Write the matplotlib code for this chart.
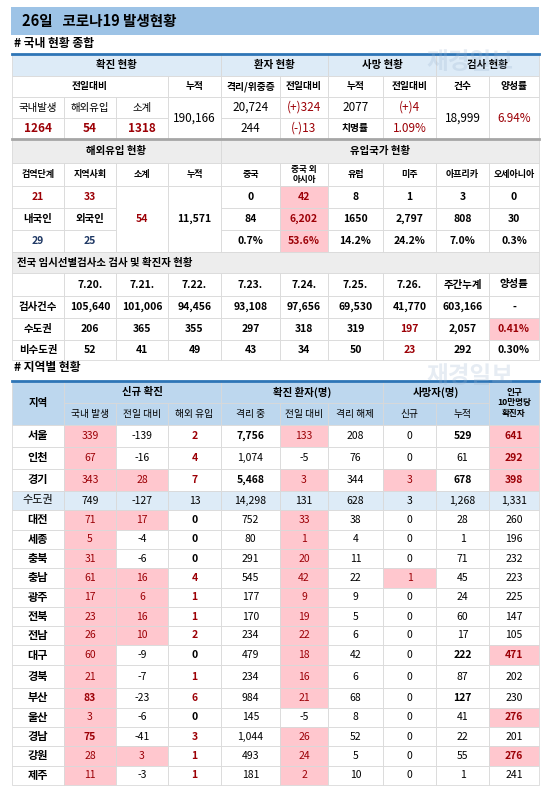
import matplotlib
matplotlib.use("Agg")
import matplotlib.pyplot as plt
from matplotlib.patches import Rectangle

plt.rcParams['font.family'] = ['Noto Sans CJK KR', 'DejaVu Sans']

# ---- data ----
total_vals = ["190,166", "20,724", "(+)324", "244", "(-)13", "2077", "(+)4", "1.09%", "18,999", "6.94%"]
new_cases = ["1264", "54", "1318"]

abroad_top = ["21", "33"]
abroad_bottom = ["29", "25"]
abroad_sub = "54"
abroad_cum = "11,571"
country_names = ["중국", "중국 외\n아시아", "유럽", "미주", "아프리카", "오세아니아"]
country_today = ["0", "42", "8", "1", "3", "0"]
country_cum = ["84", "6,202", "1650", "2,797", "808", "30"]
country_pct = ["0.7%", "53.6%", "14.2%", "24.2%", "7.0%", "0.3%"]

dates = ["7.20.", "7.21.", "7.22.", "7.23.", "7.24.", "7.25.", "7.26.", "주간누계", "양성률"]
tests = ["105,640", "101,006", "94,456", "93,108", "97,656", "69,530", "41,770", "603,166", "-"]
capital = ["206", "365", "355", "297", "318", "319", "197", "2,057", "0.41%"]
noncapital = ["52", "41", "49", "43", "34", "50", "23", "292", "0.30%"]

regions = ["서울", "인천", "경기", "수도권", "대전", "세종", "충북", "충남", "광주", "전북",
           "전남", "대구", "경북", "부산", "울산", "경남", "강원", "제주"]
domestic = [339, 67, 343, 749, 71, 5, 31, 61, 17, 23, 26, 60, 21, 83, 3, 75, 28, 11]
dom_diff = [-139, -16, 28, -127, 17, -4, -6, 16, 6, 16, 10, -9, -7, -23, -6, -41, 3, -3]
imported = [2, 4, 7, 13, 0, 0, 0, 4, 1, 1, 2, 0, 1, 6, 0, 3, 1, 1]
isolated = [7756, 1074, 5468, 14298, 752, 80, 291, 545, 177, 170, 234, 479, 234, 984, 145, 1044, 493, 181]
iso_diff = [133, -5, 3, 131, 33, 1, 20, 42, 9, 19, 22, 18, 16, 21, -5, 26, 24, 2]
released = [208, 76, 344, 628, 38, 4, 11, 22, 9, 5, 6, 42, 6, 68, 8, 52, 5, 10]
deaths_new = [0, 0, 3, 3, 0, 0, 0, 1, 0, 0, 0, 0, 0, 0, 0, 0, 0, 0]
deaths_cum = [529, 61, 678, 1268, 28, 1, 71, 45, 24, 60, 17, 222, 87, 127, 41, 22, 55, 1]
per100k = [641, 292, 398, 1331, 260, 196, 232, 223, 225, 147, 105, 471, 202, 230, 276, 201, 276, 241]

W, H = 550, 794
X = [12, 64, 116, 168, 221, 280, 328, 383, 436, 489, 539]
PINK = "#FFC7CE"
RED = "#9C0006"
LBLUE = "#DDEBF7"
BLUE = "#BDD7EE"
GRAY = "#EDEDED"
GRID = "#D9D9D9"

fig = plt.figure(figsize=(W / 100, H / 100), dpi=100)
ax = fig.add_axes([0, 0, 1, 1])
ax.set_xlim(0, W)
ax.set_ylim(H, 0)
ax.axis("off")


def cell(c0, c1, y0, y1, text="", bg="white", color="black", bold=False, size=7.5, ha="center", ls=1.0):
    x0, x1 = X[c0], X[c1]
    ax.add_patch(Rectangle((x0, y0), x1 - x0, y1 - y0, facecolor=bg, edgecolor=GRID, lw=0.6))
    if text != "":
        tx = (x0 + x1) / 2 if ha == "center" else x0 + 5
        ax.text(tx, (y0 + y1) / 2, text, ha=ha, va="center", color=color, fontsize=size,
                fontweight="bold" if bold else "normal", linespacing=ls)


def fmt(v):
    return f"{v:,}"


# title
ax.add_patch(Rectangle((11, 7), 528, 28, facecolor="#9DC3E6", edgecolor="none"))
ax.text(22, 21, "26일   코로나19 발생현황", fontsize=10.5, fontweight="bold", va="center")
ax.text(14, 44, "# 국내 현황 종합", fontsize=8.5, fontweight="bold", va="center")

# section 1
r = [54, 76, 97, 118, 139]
for c0, c1, t in [(0, 4, "확진 현황"), (4, 6, "환자 현황"), (6, 8, "사망 현황"), (8, 10, "검사 현황")]:
    cell(c0, c1, r[0], r[1], t, bg=LBLUE, bold=True)
cell(0, 3, r[1], r[2], "전일대비", bold=True, size=7)
for i, t in enumerate(["누적", "격리/위중증", "전일대비", "누적", "전일대비", "건수", "양성률"]):
    cell(3 + i, 4 + i, r[1], r[2], t, bold=True, size=7)
for i, t in enumerate(["국내발생", "해외유입", "소계"]):
    cell(i, i + 1, r[2], r[3], t, size=7.5)
    cell(i, i + 1, r[3], r[4], new_cases[i], color=RED, bold=True, size=8.5)
cell(3, 4, r[2], r[4], total_vals[0], size=8.5)
cell(4, 5, r[2], r[3], total_vals[1], size=8.5)
cell(5, 6, r[2], r[3], total_vals[2], color=RED, size=8.5)
cell(4, 5, r[3], r[4], total_vals[3], size=8.5)
cell(5, 6, r[3], r[4], total_vals[4], color=RED, size=8.5)
cell(6, 7, r[2], r[3], total_vals[5], size=8.5)
cell(7, 8, r[2], r[3], total_vals[6], color=RED, size=8.5)
cell(6, 7, r[3], r[4], "치명률", bold=True, size=7)
cell(7, 8, r[3], r[4], total_vals[7], color=RED, size=8.5)
cell(8, 9, r[2], r[4], total_vals[8], size=8.5)
cell(9, 10, r[2], r[4], total_vals[9], color=RED, size=8.5)
ax.plot([X[0], X[-1]], [r[0], r[0]], color="#2E75B6", lw=2)
ax.plot([X[0], X[-1]], [r[4], r[4]], color="#A6A6A6", lw=2)

# section 2
s = [139, 163, 186, 208, 230, 252]
cell(0, 4, s[0], s[1], "해외유입 현황", bg=GRAY, bold=True)
cell(4, 10, s[0], s[1], "유입국가 현황", bg=GRAY, bold=True)
for i, t in enumerate(["검역단계", "지역사회", "소계", "누적"] + country_names):
    cell(i, i + 1, s[1], s[2], t, bold=True, size=6.2 if "\n" in t else 6.5, ls=1.15)
cell(0, 1, s[2], s[3], abroad_top[0], color=RED, bold=True)
cell(1, 2, s[2], s[3], abroad_top[1], color=RED, bold=True)
cell(0, 1, s[3], s[4], "내국인", bold=True)
cell(1, 2, s[3], s[4], "외국인", bold=True)
cell(0, 1, s[4], s[5], abroad_bottom[0], color="#1F3864", bold=True)
cell(1, 2, s[4], s[5], abroad_bottom[1], color="#1F3864", bold=True)
cell(2, 3, s[2], s[5], abroad_sub, color=RED, bold=True)
cell(3, 4, s[2], s[5], abroad_cum, bold=True)
for i in range(6):
    pk = i == 1
    for j, vals in enumerate([country_today, country_cum, country_pct]):
        cell(4 + i, 5 + i, s[2 + j], s[3 + j], vals[i], bg=PINK if pk else "white",
             color=RED if pk else "black", bold=True)

# section 3
t = [252, 273, 296, 318, 340, 360]
cell(0, 10, t[0], t[1], "전국 임시선별검사소 검사 및 확진자 현황", bg=GRAY, bold=True, ha="left")
cell(0, 1, t[1], t[2])
for i, d in enumerate(dates):
    cell(i + 1, i + 2, t[1], t[2], d, bold=True)
for k, (lab, vals) in enumerate([("검사건수", tests), ("수도권", capital), ("비수도권", noncapital)]):
    cell(0, 1, t[2 + k], t[3 + k], lab, bold=True)
    for i, v in enumerate(vals):
        pk = (lab == "수도권" and i == 8)
        red = pk or i == 6 and lab != "검사건수"
        cell(i + 1, i + 2, t[2 + k], t[3 + k], v, bg=PINK if pk else "white",
             color=RED if red else "black", bold=True)

# section 4: regions
ax.text(14, 368, "# 지역별 현황", fontsize=8.5, fontweight="bold", va="center")
h = [381, 403, 425]
cell(0, 1, h[0], h[2], "지역", bg=BLUE, bold=True)
cell(1, 4, h[0], h[1], "신규 확진", bg=BLUE, bold=True)
cell(4, 7, h[0], h[1], "확진 환자(명)", bg=BLUE, bold=True)
cell(7, 9, h[0], h[1], "사망자(명)", bg=BLUE, bold=True)
cell(9, 10, h[0], h[2], "인구\n10만명당\n확진자", bg=BLUE, bold=True, size=6.2, ls=1.2)
for i, lab in enumerate(["국내 발생", "전일 대비", "해외 유입", "격리 중", "전일 대비", "격리 해제", "신규", "누적"]):
    cell(i + 1, i + 2, h[1], h[2], lab, bg=BLUE, size=7)
ax.plot([X[0], X[-1]], [h[0], h[0]], color="#2E75B6", lw=2)

row_h = [22, 22, 22, 19, 20, 19, 19, 20, 19, 19, 19, 20, 23, 20, 19, 19, 20, 19]
y = h[2]
for k, reg in enumerate(regions):
    y0, y1 = y, y + row_h[k]
    y = y1
    if reg == "수도권":
        vals = [domestic[k], dom_diff[k], imported[k], isolated[k], iso_diff[k], released[k],
                deaths_new[k], deaths_cum[k], per100k[k]]
        cell(0, 1, y0, y1, reg, bg=LBLUE, size=8)
        for i, v in enumerate(vals):
            cell(i + 1, i + 2, y0, y1, fmt(v), bg=LBLUE, size=7.5)
        continue
    cell(0, 1, y0, y1, reg, bold=True, size=8)
    cell(1, 2, y0, y1, fmt(domestic[k]), bg=PINK, color=RED, bold=domestic[k] in (83, 75))
    pk = dom_diff[k] > 0
    cell(2, 3, y0, y1, fmt(dom_diff[k]), bg=PINK if pk else "white", color=RED if pk else "black")
    cell(3, 4, y0, y1, fmt(imported[k]), color=RED if imported[k] else "black", bold=True)
    cell(4, 5, y0, y1, fmt(isolated[k]), bold=isolated[k] > 5000)
    pk = iso_diff[k] > 0
    cell(5, 6, y0, y1, fmt(iso_diff[k]), bg=PINK if pk else "white", color=RED if pk else "black")
    cell(6, 7, y0, y1, fmt(released[k]))
    pk = deaths_new[k] > 0
    cell(7, 8, y0, y1, fmt(deaths_new[k]), bg=PINK if pk else "white", color=RED if pk else "black")
    cell(8, 9, y0, y1, fmt(deaths_cum[k]), bold=deaths_cum[k] > 100)
    pk = per100k[k] >= 276
    cell(9, 10, y0, y1, fmt(per100k[k]), bg=PINK if pk else "white", color=RED if pk else "black", bold=pk)

# faint watermark over the tables
for wy in (62, 376):
    ax.text(470, wy, "재경일보", fontsize=17, fontweight="bold", color="#9DB4D0", alpha=0.25,
            ha="center", va="center", zorder=10)

fig.savefig("out.png", dpi=100)
